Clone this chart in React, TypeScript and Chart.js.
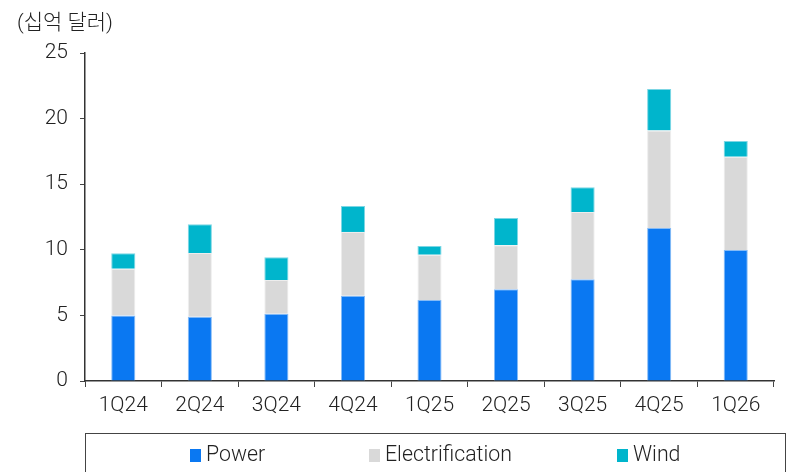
import React, { useEffect, useRef } from "react";
import { Chart, registerables } from "chart.js";

Chart.register(...registerables);

const categories = ["1Q24", "2Q24", "3Q24", "4Q24", "1Q25", "2Q25", "3Q25", "4Q25", "1Q26"];
const power = [5.0, 4.9, 5.13, 6.5, 6.17, 6.99, 7.75, 11.66, 9.98];
const electrification = [3.56, 4.86, 2.57, 4.86, 3.46, 3.35, 5.13, 7.44, 7.12];
const wind = [1.17, 2.18, 1.73, 1.98, 0.66, 2.08, 1.88, 3.16, 1.2];
const yTicks = [0, 5, 10, 15, 20, 25];
const unitLabel = "(십억 달러)";

const FONT = "Roboto, 'Noto Sans CJK KR', sans-serif";
const TEXT = "#222222";

const legendX = [190, 369, 617];

const decorPlugin = {
  id: "decor",
  afterDraw(chart: any) {
    const ctx = chart.ctx;
    ctx.save();
    // unit label
    ctx.font = `300 21px ${FONT}`;
    ctx.fillStyle = TEXT;
    ctx.textAlign = "left";
    ctx.textBaseline = "alphabetic";
    ctx.fillText(unitLabel, 17, 29);
    // legend box
    ctx.strokeStyle = "#444444";
    ctx.lineWidth = 1;
    ctx.strokeRect(85.5, 433.5, 700, 50);
    // legend items
    ctx.font = `300 21.3px ${FONT}`;
    chart.data.datasets.forEach((ds: any, i: number) => {
      const x = legendX[i];
      ctx.fillStyle = ds.backgroundColor;
      ctx.fillRect(x, 449, 11, 13);
      ctx.fillStyle = TEXT;
      ctx.fillText(ds.label, x + 16, 461);
    });
    ctx.restore();
  },
};

export default function App() {
  const ref = useRef<HTMLCanvasElement>(null);
  useEffect(() => {
    if (!ref.current) return;
    const chart = new Chart(ref.current, {
      type: "bar",
      data: {
        labels: categories,
        datasets: [
          { label: "Power", data: power, backgroundColor: "#0a78f2", borderColor: "rgba(120,180,245,0.9)", borderWidth: 1 },
          { label: "Electrification", data: electrification, backgroundColor: "#d9d9d9", borderColor: "rgba(235,235,235,0.9)", borderWidth: 1 },
          { label: "Wind", data: wind, backgroundColor: "#00b5cc", borderColor: "rgba(110,210,225,0.9)", borderWidth: 1 },
        ],
      },
      options: {
        animation: false,
        responsive: false,
        maintainAspectRatio: false,
        layout: { padding: { left: 0, top: 53, right: 17, bottom: 51 } },
        plugins: { legend: { display: false }, tooltip: { enabled: false }, title: { display: false } },
        datasets: { bar: { categoryPercentage: 1, barPercentage: 0.315 } },
        scales: {
          x: {
            stacked: true,
            offset: true,
            grid: { display: true, drawOnChartArea: false, offset: true, tickLength: 6, color: "#444444", tickColor: "#444444" },
            border: { display: true, color: "#333333", width: 1.5 },
            ticks: { font: { family: FONT, size: 21, weight: 300 }, color: TEXT, padding: 6, maxRotation: 0 },
            afterFit: (s: any) => { s.height = 40; },
          },
          y: {
            stacked: true,
            min: 0,
            max: 25,
            afterBuildTicks: (s: any) => { s.ticks = yTicks.map((v) => ({ value: v })); },
            grid: { display: true, drawOnChartArea: false, tickLength: 5, color: "#444444", tickColor: "#444444" },
            border: { display: true, color: "#333333", width: 1.5 },
            ticks: { font: { family: FONT, size: 21, weight: 300 }, color: TEXT, padding: 12 },
            afterFit: (s: any) => { s.width = 85; },
          },
        },
      },
      plugins: [decorPlugin],
    });
    return () => chart.destroy();
  }, []);
  return (
    <div style={{ position: "absolute", left: 0, top: 0, width: 791, height: 472, background: "#fff" }}>
      <canvas ref={ref} width={791} height={472} style={{ width: 791, height: 472, display: "block" }} />
    </div>
  );
}
